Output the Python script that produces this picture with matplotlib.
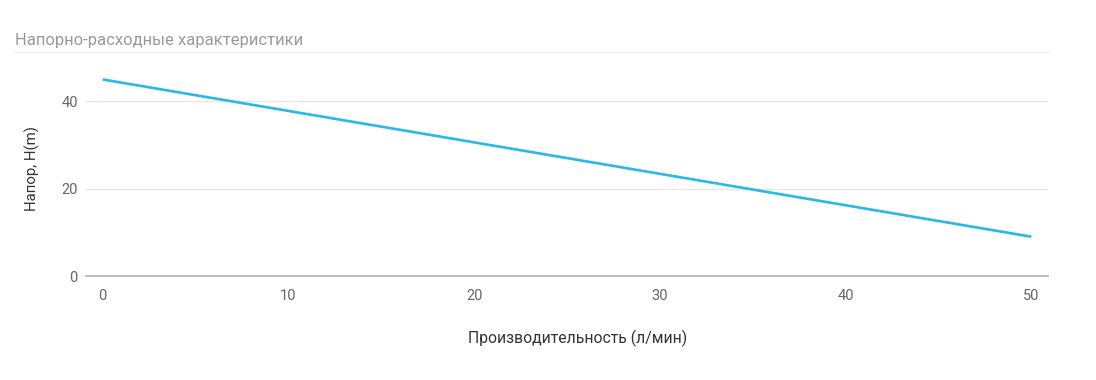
import matplotlib.pyplot as plt
from matplotlib.lines import Line2D

plt.rcParams['font.family'] = ['Roboto', 'DejaVu Sans']

# data
flow = [0, 10, 20, 30, 40, 50]
head = [45, 37.8, 30.6, 23.4, 16.2, 9.0]
yticks = [0, 20, 40]
xticks = [0, 10, 20, 30, 40, 50]

fig = plt.figure(figsize=(10.96, 3.8), dpi=100)
ax = fig.add_axes([86 / 1096, 104 / 380, (1048 - 86) / 1096, (276 - 62) / 380])

ax.plot(flow, head, color='#29b9e4', lw=1.9, solid_capstyle='butt')

ax.set_xlim(-0.9, 50.9)
ax.set_ylim(0, 49)
ax.set_xticks(xticks)
ax.set_yticks(yticks)
ax.grid(axis='y', color='#e6e6e6', lw=1)
ax.set_axisbelow(True)
for s in ['top', 'right', 'left']:
    ax.spines[s].set_visible(False)
ax.spines['bottom'].set_color('#b0b0b0')
ax.spines['bottom'].set_linewidth(1.2)
ax.tick_params(length=0, labelsize=10.5, labelcolor='#666666')
ax.tick_params(axis='x', pad=9)
ax.tick_params(axis='y', pad=6)

ax.set_xlabel('Производительность (л/мин)', fontsize=11.3, color='#333333')
ax.xaxis.set_label_coords(0.511, -0.252)
ax.set_ylabel('Напор, H(m)', fontsize=10.8, color='#333333', labelpad=15)

fig.text(15 / 1096, 1 - 40 / 380, 'Напорно-расходные характеристики', fontsize=12,
         color='#9a9a9a', va='center', ha='left')
fig.add_artist(Line2D([15 / 1096, 1048 / 1096], [1 - 52 / 380, 1 - 52 / 380],
                      color='#ececec', lw=1))

fig.savefig('out.png', dpi=100)
